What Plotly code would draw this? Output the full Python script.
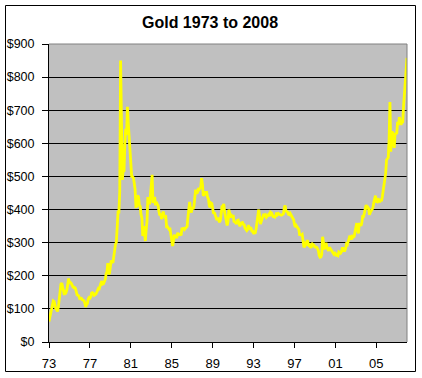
import plotly.graph_objects as go

# Monthly gold price (USD/oz), Jan 1973 .. Dec 2007
gold_1973 = [62, 74, 84, 90, 102, 124, 122, 104, 100, 98, 92, 106]
gold_1974 = [130, 155, 175, 178, 165, 150, 142, 152, 150, 158, 182, 192]
gold_1975 = [176, 180, 178, 170, 167, 164, 165, 162, 144, 142, 141, 139]
gold_1976 = [131, 131, 132, 128, 127, 125, 118, 106, 113, 116, 130, 134]
gold_1977 = [132, 136, 148, 149, 147, 141, 143, 145, 150, 159, 162, 161]
gold_1978 = [173, 178, 184, 175, 176, 184, 189, 206, 212, 238, 206, 208]
gold_1979 = [227, 246, 242, 239, 258, 279, 295, 301, 355, 392, 392, 455]
gold_1980 = [850, 665, 490, 517, 514, 600, 644, 626, 710, 661, 623, 595]
gold_1981 = [557, 500, 499, 496, 480, 461, 409, 410, 443, 438, 413, 410]
gold_1982 = [384, 374, 320, 350, 334, 305, 339, 364, 438, 422, 416, 443]
gold_1983 = [481, 505, 420, 433, 438, 413, 423, 416, 412, 394, 382, 388]
gold_1984 = [371, 385, 394, 381, 377, 378, 348, 348, 341, 340, 341, 320]
gold_1985 = [303, 290, 304, 324, 317, 317, 317, 330, 324, 325, 325, 322]
gold_1986 = [345, 339, 346, 340, 343, 343, 349, 377, 418, 423, 397, 391]
gold_1987 = [408, 401, 409, 438, 460, 450, 451, 461, 460, 465, 468, 495]
gold_1988 = [477, 442, 444, 452, 451, 452, 437, 433, 412, 407, 420, 418]
gold_1989 = [404, 388, 391, 384, 371, 368, 375, 365, 362, 367, 394, 409]
gold_1990 = [410, 417, 393, 374, 369, 352, 363, 400, 389, 380, 382, 376]
gold_1991 = [384, 364, 363, 358, 357, 367, 368, 357, 349, 359, 360, 361]
gold_1992 = [355, 354, 344, 339, 337, 341, 353, 343, 345, 344, 335, 335]
gold_1993 = [329, 329, 330, 342, 367, 372, 400, 380, 356, 364, 374, 383]
gold_1994 = [387, 382, 384, 377, 381, 386, 386, 380, 392, 390, 384, 379]
gold_1995 = [379, 377, 382, 391, 385, 388, 386, 384, 383, 383, 386, 387]
gold_1996 = [405, 412, 396, 393, 392, 385, 384, 388, 383, 381, 378, 369]
gold_1997 = [355, 347, 352, 345, 344, 341, 324, 324, 323, 325, 306, 289]
gold_1998 = [289, 298, 296, 308, 299, 292, 293, 284, 289, 296, 294, 292]
gold_1999 = [287, 287, 286, 282, 276, 261, 256, 257, 265, 318, 293, 283]
gold_2000 = [284, 300, 286, 280, 275, 286, 282, 275, 274, 270, 266, 271]
gold_2001 = [266, 262, 263, 261, 272, 270, 268, 272, 283, 283, 276, 276]
gold_2002 = [282, 296, 294, 303, 315, 321, 313, 310, 319, 317, 319, 333]
gold_2003 = [357, 359, 341, 328, 356, 356, 351, 360, 379, 379, 390, 408]
gold_2004 = [414, 405, 407, 403, 384, 392, 398, 401, 405, 421, 439, 442]
gold_2005 = [424, 423, 434, 429, 422, 431, 425, 438, 456, 470, 477, 510]
gold_2006 = [550, 555, 557, 611, 725, 575, 634, 633, 598, 586, 628, 630]
gold_2007 = [631, 665, 655, 679, 667, 656, 665, 665, 713, 755, 806, 840]
gold_2008 = [858]

years_data = [
    gold_1973, gold_1974, gold_1975, gold_1976, gold_1977, gold_1978, gold_1979,
    gold_1980, gold_1981, gold_1982, gold_1983, gold_1984, gold_1985, gold_1986,
    gold_1987, gold_1988, gold_1989, gold_1990, gold_1991, gold_1992, gold_1993,
    gold_1994, gold_1995, gold_1996, gold_1997, gold_1998, gold_1999, gold_2000,
    gold_2001, gold_2002, gold_2003, gold_2004, gold_2005, gold_2006, gold_2007,
    gold_2008,
]

tick_years = [1973, 1977, 1981, 1985, 1989, 1993, 1997, 2001, 2005]
tick_labels = ["73", "77", "81", "85", "89", "93", "97", "01", "05"]
y_ticks = [0, 100, 200, 300, 400, 500, 600, 700, 800, 900]
y_labels = ["$0", "$100", "$200", "$300", "$400", "$500", "$600", "$700", "$800", "$900"]

x = []
y = []
for yi, vals in enumerate(years_data):
    for mi, v in enumerate(vals):
        x.append(1973 + yi + mi / 12.0)
        y.append(v)

W, H = 422, 378
L, R, T, B = 49, 407, 44, 342

fig = go.Figure()
fig.add_trace(go.Scatter(x=x, y=y, mode="lines",
                         line=dict(color="#FFFF00", width=2.8), hoverinfo="skip"))

def px_to_paper_x(p):
    return (p - L) / (R - L)

def px_to_paper_y(p):
    return (B - p) / (B - T)

font_family = "Liberation Sans, Arial, sans-serif"

fig.update_layout(
    width=W, height=H,
    margin=dict(l=L, r=W - R, t=T, b=H - B, pad=0, autoexpand=False),
    paper_bgcolor="white",
    plot_bgcolor="#C0C0C0",
    showlegend=False,
    font=dict(family=font_family, color="black", size=12),
    title=dict(text="<b>Gold 1973 to 2008</b>", x=210 / W, xanchor="center",
               y=1 - 22 / H, yanchor="middle", xref="container", yref="container",
               font=dict(size=16, family=font_family, color="black")),
    xaxis=dict(range=[1973, 2008], tickvals=tick_years, ticktext=tick_labels,
               showgrid=False, zeroline=False, showline=True, linecolor="black",
               linewidth=1, ticks="outside", ticklen=5, tickcolor="black",
               ticklabelstandoff=4, automargin=False,
               tickfont=dict(size=13, family=font_family, color="black"),
               fixedrange=True),
    yaxis=dict(range=[0, 900], tickvals=y_ticks, ticktext=y_labels,
               showgrid=True, gridcolor="black", gridwidth=1, zeroline=False,
               showline=True, linecolor="black", linewidth=1,
               ticks="outside", ticklen=6, tickcolor="black",
               ticklabelstandoff=5, automargin=False,
               tickfont=dict(size=12.5, family=font_family, color="black"),
               fixedrange=True),
    shapes=[
        dict(type="path", xref="paper", yref="paper",
             path="M 0,1 L 1,1 L 1,0", line=dict(color="#808080", width=1),
             layer="above"),
        dict(type="rect", xref="paper", yref="paper",
             x0=px_to_paper_x(5.5), x1=px_to_paper_x(415.5),
             y0=px_to_paper_y(371.5), y1=px_to_paper_y(5.5),
             line=dict(color="black", width=1), layer="above"),
    ],
)

fig.write_html("out.html", config={"displayModeBar": False},
               post_script="document.body.style.margin='0';document.body.style.padding='0';")
